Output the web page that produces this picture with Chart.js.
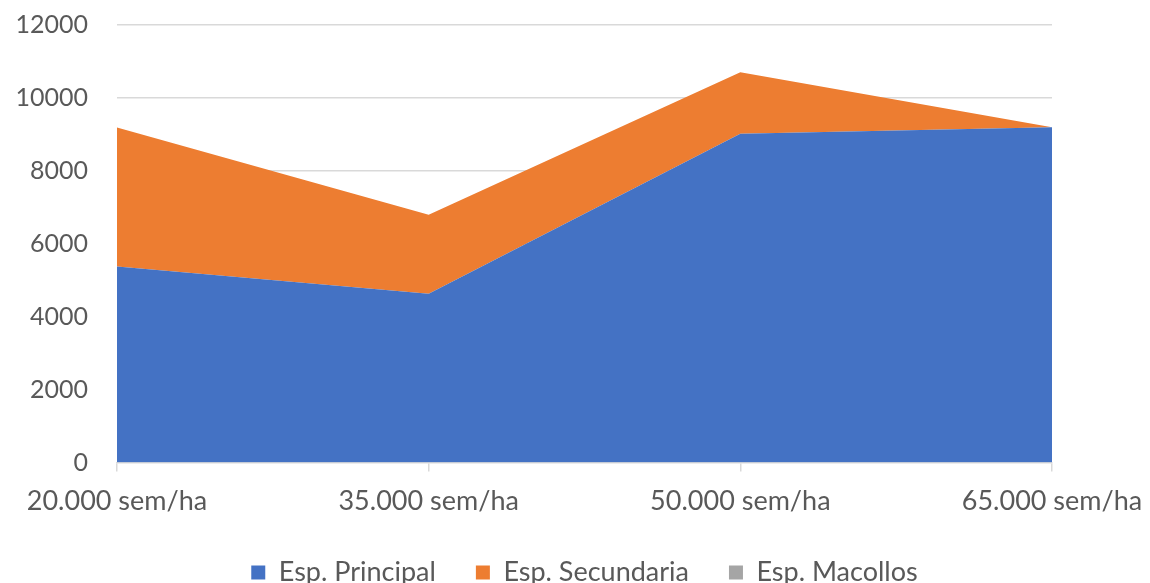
<!DOCTYPE html>
<html>
<head>
<meta charset="utf-8">
<script src="https://cdn.jsdelivr.net/npm/chart.js@4/dist/chart.umd.min.js"></script>
<style>
  html, body { margin: 0; padding: 0; background: #ffffff; }
  #wrap { width: 1150px; height: 583px; position: relative; }
</style>
</head>
<body>
<div id="wrap"><canvas id="areaChart"></canvas></div>
<script>
// Data
const categories = ['20.000 sem/ha', '35.000 sem/ha', '50.000 sem/ha', '65.000 sem/ha'];
const principal = [5380, 4630, 9015, 9195];
const secundaria = [3810, 2165, 1690, 0];
const macollos = [0, 0, 0, 0];
const yTicks = [0, 2000, 4000, 6000, 8000, 10000, 12000];

const textColor = '#595959';
const gridColor = '#d9d9d9';
const fontFamily = 'Lato, "Open Sans", sans-serif';

const ctx = document.getElementById('areaChart').getContext('2d');

new Chart(ctx, {
    type: 'line',
    data: {
        labels: categories,
        datasets: [
            {
                label: 'Esp. Principal',
                data: principal,
                backgroundColor: '#4472c4',
                borderColor: '#4472c4',
                borderWidth: 0,
                pointRadius: 0,
                fill: 'origin',
                tension: 0
            },
            {
                label: 'Esp. Secundaria',
                data: secundaria,
                backgroundColor: '#ed7d31',
                borderColor: '#ed7d31',
                borderWidth: 0,
                pointRadius: 0,
                fill: '-1',
                tension: 0
            },
            {
                label: 'Esp. Macollos',
                data: macollos,
                backgroundColor: '#a5a5a5',
                borderColor: '#a5a5a5',
                borderWidth: 0,
                pointRadius: 0,
                fill: '-1',
                tension: 0
            }
        ]
    },
    options: {
        responsive: true,
        maintainAspectRatio: false,
        animation: false,
        layout: {
            padding: { top: 25, right: 98, left: 0, bottom: -13 }
        },
        plugins: {
            legend: {
                position: 'bottom',
                fullSize: false,
                labels: {
                    color: textColor,
                    font: { family: fontFamily, size: 27 },
                    boxWidth: 14,
                    boxHeight: 14,
                    padding: 40
                }
            },
            tooltip: { enabled: false }
        },
        scales: {
            x: {
                offset: false,
                grid: {
                    display: true,
                    drawOnChartArea: false,
                    drawTicks: true,
                    tickLength: 9,
                    color: gridColor,
                    lineWidth: 1.5
                },
                border: { color: gridColor, width: 1.5 },
                ticks: {
                    color: textColor,
                    font: { family: fontFamily, size: 27 },
                    padding: 13,
                    maxRotation: 0
                },
                afterFit: (scale) => {
                    scale.paddingLeft = 0;
                    scale.paddingRight = 0;
                    scale.height -= 11;
                }
            },
            y: {
                stacked: true,
                min: 0,
                max: 12000,
                afterBuildTicks: (scale) => {
                    scale.ticks = yTicks.map(v => ({ value: v }));
                },
                afterFit: (scale) => {
                    scale.width = 117;
                    scale.paddingTop = 0;
                    scale.paddingBottom = 0;
                },
                grid: {
                    color: (c) => c.tick && c.tick.value === 0 ? 'rgba(0,0,0,0)' : gridColor,
                    lineWidth: 1.5,
                    drawTicks: false
                },
                border: { display: false },
                ticks: {
                    color: textColor,
                    font: { family: fontFamily, size: 25 },
                    padding: 29,
                    callback: (v) => String(v)
                }
            }
        }
    }
});
</script>
</body>
</html>
